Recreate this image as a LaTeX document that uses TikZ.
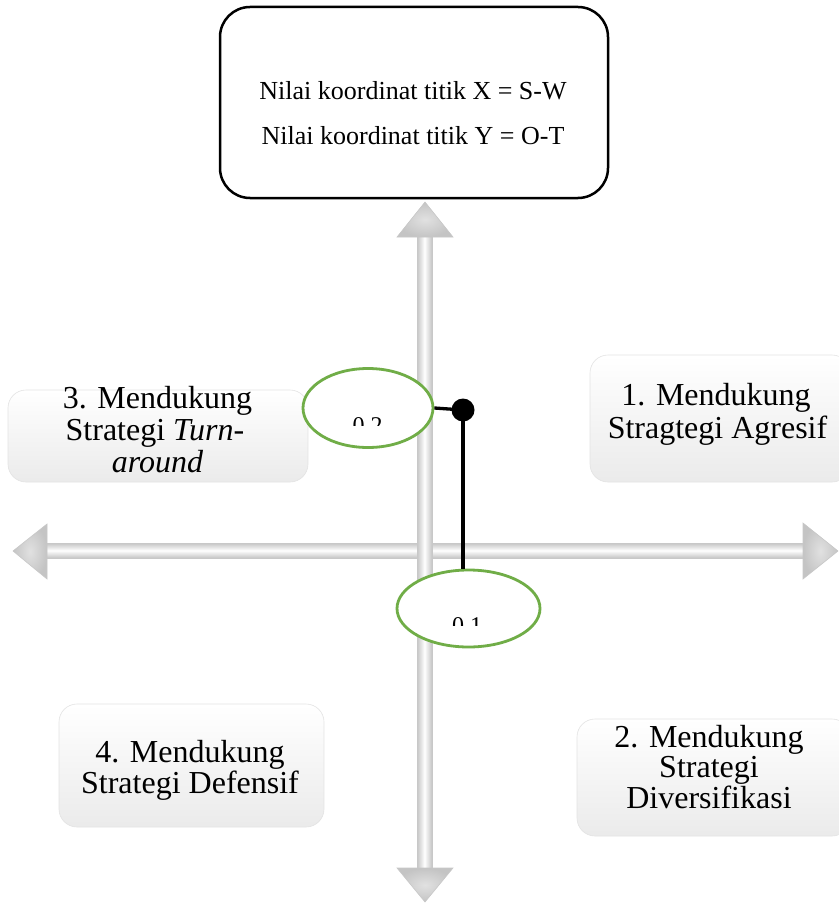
\documentclass[tikz,border=0pt]{standalone}
\usepackage{fontspec}
\setmainfont{Liberation Serif}
\usetikzlibrary{shapes.geometric}
\definecolor{grn}{RGB}{112,173,71}
\definecolor{arrfill}{RGB}{212,212,212}
\definecolor{arrdark}{RGB}{196,196,196}
\definecolor{arredge}{RGB}{200,200,200}
\begin{document}
\begin{tikzpicture}[x=1pt,y=-1pt,
 quad/.style={draw=gray!22, line width=0.6pt, rounded corners=18pt, top color=white, bottom color=gray!16},
 qtext/.style={font=\fontsize{32}{32}\selectfont, anchor=base, inner sep=0pt},
 ttext/.style={font=\fontsize{26}{26}\selectfont, anchor=base, inner sep=0pt},
 oval/.style={draw=grn, line width=2.8pt, ellipse, fill=white, inner sep=0pt},
 headshape/.style={draw=arredge, line width=0.6pt, line join=miter, inner color=arrfill!70, outer color=arrdark},
 hshaft/.style={draw=arredge, line width=0.6pt, top color=arrdark, bottom color=arrdark, middle color=white},
 vshaft/.style={draw=arredge, line width=0.6pt, left color=arrdark, right color=arrdark, middle color=white},
 link/.style={black, line width=3.3pt},
]
\useasboundingbox (0,0) rectangle (838,904);
\fill[white] (0,0) rectangle (838,904);

% quadrant boxes
\path[quad] (8,390) rectangle (308,482);
\path[quad] (590,355) rectangle (850,482);
\path[quad] (59,704) rectangle (324,827);
\path[quad] (577,719) rectangle (850,836);

% horizontal axis arrow
\path[hshaft] (46,543) rectangle (804,558);
\path[headshape] (13,551) -- (47,524) -- (47,579) -- cycle;
\path[headshape] (838,551) -- (803,523) -- (803,579) -- cycle;

% vertical axis arrow
\path[vshaft] (417,236) rectangle (432,869);
\path[headshape] (425,202) -- (453,237) -- (397,237) -- cycle;
\path[headshape] (425,902) -- (453,868) -- (397,868) -- cycle;

% top information box
\draw[line width=2.5pt, rounded corners=30pt] (220,7) rectangle (608,198);
\node[ttext] (tx) at (413,100) {Nilai koordinat titik X = S-W};
\node[ttext] (ty) at (413,145) {Nilai koordinat titik Y = O-T};

% quadrant texts
\node[qtext] (q3a) at (157.5,408) {3. Mendukung};
\node[qtext] (q3b) at (155,440) {Strategi \textit{Turn-}};
\node[qtext] (q3c) at (157.5,472) {\textit{around}};

\node[qtext] (q1a) at (716,405) {1.\,\,Mendukung};
\node[qtext] (q1b) at (717.5,438) {Stragtegi Agresif};

\node[qtext] (q4a) at (190,762) {4. Mendukung};
\node[qtext] (q4b) at (190,793) {Strategi Defensif};

\node[qtext] (q2a) at (709,747) {2. Mendukung};
\node[qtext] (q2b) at (709,777) {Strategi};
\node[qtext] (q2c) at (709,808) {Diversifikasi};

% value ellipses
\node[oval, minimum width=130pt, minimum height=79pt] (e2) at (368,408) {};
\node[oval, minimum width=143pt, minimum height=77pt] (e1) at (468.5,608.5) {};
\begin{scope}
  \clip (300,360) rectangle (440,425.5);
  \node[font=\fontsize{24}{24}\selectfont, anchor=base, inner sep=0pt] (v2) at (367.5,433) {0,2};
\end{scope}
\begin{scope}
  \clip (395,565) rectangle (545,625.5);
  \node[font=\fontsize{24}{24}\selectfont, anchor=base, inner sep=0pt] (v1) at (467,633) {0,1};
\end{scope}

% point and connectors
\node[circle, fill=black, minimum size=23pt, inner sep=0pt] (pt) at (463,410) {};
\draw[link] (e2.east) -- (pt.center);
\draw[link] (pt.center) -- (pt |- e1.north);
\end{tikzpicture}
\end{document}
